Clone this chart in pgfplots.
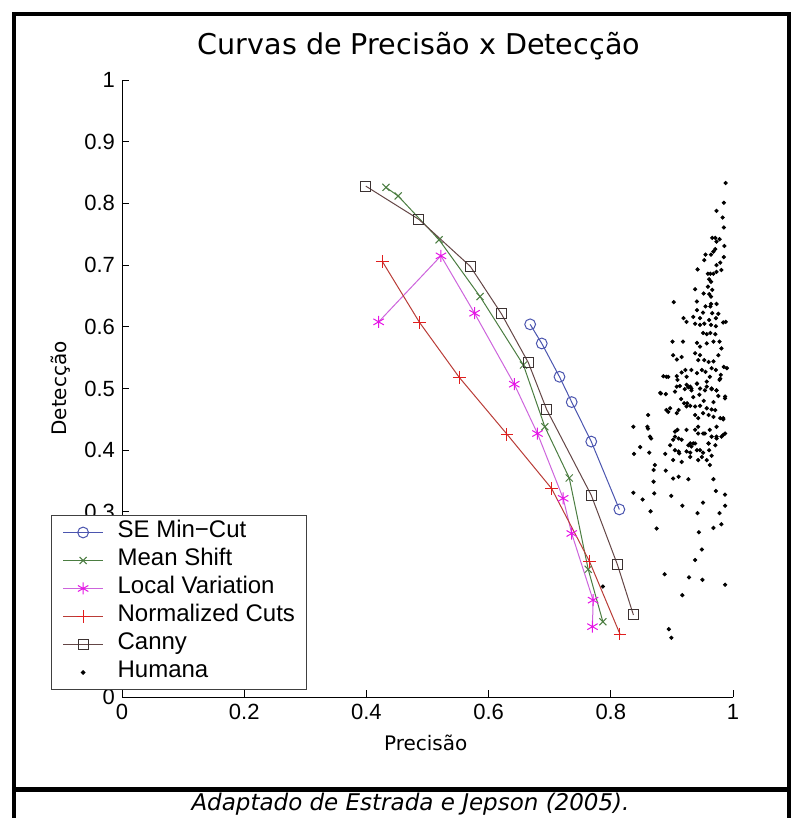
\documentclass[border=0pt]{standalone}
\usepackage{fontspec}
\usepackage{pgfplots}
\pgfplotsset{compat=1.18}
\newfontfamily\arialf{Liberation Sans}
\newfontfamily\tahf{DejaVu Sans}
\definecolor{semc}{RGB}{75,85,175}
\definecolor{msc}{RGB}{75,125,65}
\definecolor{lvline}{RGB}{205,100,220}
\definecolor{lvmark}{RGB}{230,20,230}
\definecolor{ncline}{RGB}{185,60,55}
\definecolor{ncmark}{RGB}{225,30,30}
\definecolor{cannyline}{RGB}{100,70,70}
\definecolor{cannymark}{RGB}{60,50,50}
\pgfplotsset{legend image code/.code={\draw[mark repeat=2,mark phase=2,#1] plot coordinates {(0pt,0pt) (10pt,0pt) (20pt,0pt)};}}
\begin{document}
\begin{tikzpicture}
\path[use as bounding box] (0pt,0pt) rectangle (397pt,-409pt);
\begin{axis}[
  at={(61pt,-348.5pt)}, anchor=south west,
  width=305.5pt, height=308.5pt, scale only axis,
  xmin=0, xmax=1, ymin=0, ymax=1,
  axis lines=left, axis line style={-, line width=0.5pt},
  tick align=inside, major tick length=3.5pt,
  tick style={line width=0.5pt, black},
  xtick={0,0.2,0.4,0.6,0.8,1},
  ytick={0,0.1,0.2,0.3,0.4,0.5,0.6,0.7,0.8,0.9,1},
  /pgf/number format/assume math mode=true,
  tick label style={font=\arialf\fontsize{11}{13}\selectfont},
  title={Curvas de Precisão x Detecção},
  title style={at={(axis description cs:0.486,1.036)}, anchor=center, font=\tahf\fontsize{14.3}{16}\selectfont},
  xlabel={Precisão},
  xlabel style={at={(axis description cs:0.497,-0.0746)}, anchor=center, font=\tahf\fontsize{10}{12}\selectfont},
  ylabel={Detecção},
  ylabel style={at={(axis description cs:-0.1,0.5)}, anchor=center, font=\tahf\fontsize{10}{12}\selectfont},
  legend cell align=left,
  legend style={at={(axis description cs:-0.116,0.295)}, anchor=north west,
    draw=black!75, fill=white, line width=0.5pt,
    font=\arialf\fontsize{12}{13}\selectfont,
    inner xsep=5.5pt, inner ysep=1.5pt, row sep=0pt,
    nodes={inner xsep=0pt, inner ysep=0pt, text height=9.5pt, text depth=4.5pt},
    /tikz/every odd column/.append style={column sep=7pt}},
]
\addplot[color=semc, line width=0.5pt, mark=o, mark size=2.7pt] coordinates {
(0.668,0.604) (0.687,0.573) (0.716,0.519) (0.736,0.478) (0.768,0.414) (0.814,0.304)};
\addlegendentry{SE Min−Cut}
\addplot[color=msc, line width=0.5pt, mark=x, mark size=2.5pt] coordinates {
(0.432,0.826) (0.452,0.812) (0.519,0.741) (0.586,0.649) (0.657,0.538) (0.692,0.438) (0.732,0.355) (0.763,0.207) (0.787,0.122)};
\addlegendentry{Mean Shift}
\addplot[color=lvline, line width=0.5pt, mark=asterisk, mark size=3pt, mark options={color=lvmark}] coordinates {
(0.420,0.608) (0.522,0.715) (0.577,0.622) (0.642,0.507) (0.680,0.427) (0.722,0.322) (0.736,0.265) (0.771,0.157) (0.770,0.114)};
\addlegendentry{Local Variation}
\addplot[color=ncline, line width=0.5pt, mark=+, mark size=3.2pt, mark options={color=ncmark}] coordinates {
(0.426,0.706) (0.487,0.607) (0.552,0.518) (0.630,0.426) (0.703,0.338) (0.765,0.220) (0.815,0.102)};
\addlegendentry{Normalized Cuts\hspace{3pt}}
\addplot[color=cannyline, line width=0.5pt, mark=square, mark size=2.5pt, mark options={color=cannymark}] coordinates {
(0.399,0.828) (0.486,0.774) (0.570,0.698) (0.621,0.621) (0.665,0.542) (0.695,0.466) (0.768,0.327) (0.811,0.214) (0.837,0.133)};
\addlegendentry{Canny}
\addplot[only marks, mark=*, mark size=0.85pt, color=black] table {
x y
0.988 0.833
0.985 0.801
0.973 0.788
0.983 0.777
0.985 0.761
0.966 0.744
0.971 0.744
0.978 0.742
0.973 0.738
0.986 0.731
0.971 0.726
0.968 0.722
0.955 0.717
0.964 0.717
0.985 0.713
0.953 0.708
0.979 0.704
0.973 0.700
0.942 0.693
0.959 0.686
0.963 0.686
0.968 0.686
0.973 0.689
0.981 0.692
0.961 0.677
0.964 0.673
0.959 0.665
0.966 0.660
0.938 0.661
0.952 0.654
0.961 0.653
0.964 0.649
0.903 0.640
0.941 0.641
0.964 0.637
0.973 0.637
0.955 0.633
0.963 0.633
0.941 0.627
0.951 0.623
0.966 0.622
0.976 0.621
0.935 0.616
0.946 0.614
0.961 0.611
0.972 0.614
0.984 0.607
0.988 0.608
0.919 0.614
0.924 0.608
0.938 0.605
0.946 0.603
0.953 0.605
0.964 0.603
0.972 0.601
0.951 0.590
0.957 0.588
0.963 0.590
0.971 0.588
0.901 0.576
0.918 0.576
0.941 0.574
0.946 0.568
0.957 0.573
0.968 0.576
0.978 0.576
0.981 0.565
0.902 0.554
0.908 0.547
0.916 0.551
0.938 0.557
0.946 0.554
0.953 0.546
0.960 0.543
0.968 0.544
0.976 0.554
0.932 0.530
0.941 0.525
0.949 0.530
0.955 0.527
0.965 0.533
0.972 0.530
0.980 0.522
0.985 0.535
0.990 0.533
0.886 0.520
0.891 0.519
0.908 0.520
0.909 0.514
0.916 0.526
0.924 0.519
0.881 0.493
0.890 0.491
0.905 0.495
0.913 0.504
0.921 0.499
0.927 0.502
0.932 0.497
0.946 0.500
0.957 0.503
0.965 0.499
0.978 0.514
0.987 0.484
0.837 0.438
0.861 0.457
0.848 0.405
0.838 0.394
0.863 0.396
0.860 0.438
0.864 0.422
0.891 0.465
0.897 0.468
0.911 0.465
0.924 0.471
0.897 0.408
0.905 0.422
0.909 0.433
0.916 0.417
0.927 0.408
0.935 0.411
0.943 0.438
0.951 0.427
0.960 0.411
0.965 0.422
0.973 0.438
0.984 0.452
0.981 0.422
0.987 0.427
0.905 0.400
0.912 0.395
0.930 0.396
0.941 0.400
0.951 0.396
0.961 0.400
0.965 0.391
0.930 0.503
0.941 0.508
0.954 0.497
0.962 0.519
0.979 0.516
0.973 0.497
0.987 0.487
0.894 0.519
0.922 0.530
0.943 0.546
0.882 0.492
0.894 0.462
0.908 0.460
0.861 0.435
0.866 0.419
0.889 0.394
0.902 0.417
0.911 0.419
0.911 0.398
0.916 0.381
0.924 0.398
0.932 0.406
0.938 0.411
0.949 0.389
0.957 0.384
0.962 0.376
0.971 0.408
0.973 0.419
0.984 0.425
0.870 0.368
0.872 0.376
0.890 0.367
0.870 0.349
0.902 0.354
0.911 0.357
0.927 0.353
0.968 0.353
0.837 0.331
0.852 0.320
0.871 0.330
0.899 0.326
0.972 0.334
0.987 0.328
0.865 0.301
0.917 0.310
0.942 0.298
0.951 0.315
0.978 0.298
0.987 0.310
0.875 0.273
0.944 0.267
0.968 0.274
0.981 0.280
0.949 0.239
0.938 0.222
0.888 0.199
0.928 0.194
0.950 0.190
0.987 0.182
0.917 0.165
0.895 0.110
0.899 0.096
0.787 0.179
0.920 0.476
0.930 0.472
0.938 0.471
0.946 0.472
0.957 0.468
0.965 0.466
0.971 0.465
0.979 0.452
0.984 0.450
0.938 0.457
0.943 0.452
0.951 0.460
0.960 0.457
0.968 0.454
0.905 0.430
0.924 0.433
0.938 0.433
0.943 0.427
0.954 0.427
0.962 0.433
0.973 0.422
0.930 0.411
0.946 0.400
0.960 0.411
0.902 0.384
0.930 0.389
0.943 0.384
0.908 0.503
0.924 0.506
0.941 0.508
0.957 0.511
0.965 0.500
0.973 0.497
0.932 0.500
0.915 0.483
0.935 0.486
0.952 0.480
0.968 0.478
0.976 0.488
0.945 0.490
0.925 0.476
};
\addlegendentry{Humana}
\end{axis}
\draw[line width=2pt, line join=miter] (6.85pt,-425pt) -- (6.85pt,-6.85pt) -- (394.5pt,-6.85pt) -- (394.5pt,-425pt);
\draw[line width=2.5pt] (6.85pt,-394.75pt) -- (394.5pt,-394.75pt);
\node[font=\tahf\itshape\fontsize{11.5}{13}\selectfont, anchor=base] at (205.25pt,-405.3pt) {Adaptado de Estrada e Jepson (2005).};
\end{tikzpicture}
\end{document}
